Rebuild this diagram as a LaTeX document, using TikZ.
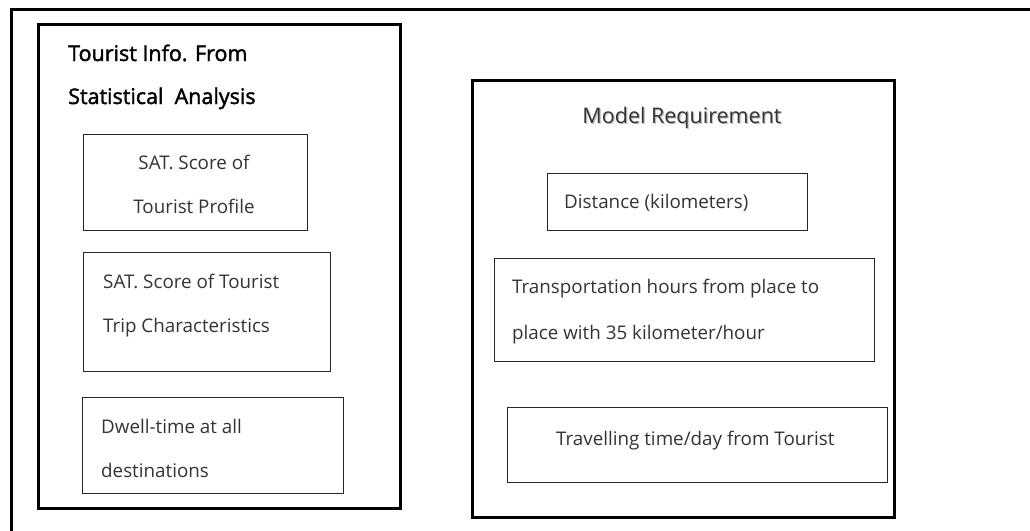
\documentclass[tikz,border=0pt]{standalone}
\usepackage{fontspec}
\setmainfont{Open Sans}
\newfontfamily\headfont{Open Sans}[FakeBold=1.8]
\tikzset{
  frame/.style={draw, line width=3pt},
  group/.style={draw, line width=2.6pt, inner sep=0pt, anchor=north west},
  item/.style={draw=black!85, line width=1.3pt, inner sep=0pt, anchor=north west},
  txt/.style={inner sep=0pt, anchor=base west, align=left, text=black!80,
    font=\fontsize{18.8}{44}\selectfont},
}

\begin{document}
\begin{tikzpicture}[x=1pt,y=-1pt]
  \useasboundingbox (0,0) rectangle (1030,530);
  % outer frame, cut off by the page edge
  \draw[frame] (1040,9) -- (11,9) -- (11,540);

  % left group: tourist information
  \node[group, minimum width=362pt, minimum height=484pt] (info) at (37,23) {};
  \node[item, minimum width=224pt, minimum height=96pt] (profile) at (83,134) {};
  \node[item, minimum width=247pt, minimum height=119pt] (trip) at (83,252) {};
  \node[item, minimum width=261pt, minimum height=96pt] (dwell) at (82,397) {};

  % multi-line texts sit on the baseline of their last line
  \node[txt, text=black, font=\headfont\fontsize{21.5}{43}\selectfont] (infotitle) at (68,104) {Tourist Info. From\\Statistical\ \ Analysis};
  \node[txt, anchor=base, align=center] (profiletext) at (194,213) {SAT. Score of\\Tourist Profile};
  \node[txt] (triptext) at (103,332) {SAT. Score of Tourist\\Trip Characteristics};
  \node[txt] (dwelltext) at (101,477) {Dwell-time at all\\destinations};

  % right group: model requirement
  \node[group, minimum width=422pt, minimum height=437pt] (model) at (471,79) {};
  \node[item, minimum width=260pt, minimum height=57pt] (dist) at (547,173) {};
  \node[item, minimum width=380pt, minimum height=103pt] (trans) at (494,258) {};
  \node[item, minimum width=380pt, minimum height=75pt] (travel) at (507,407) {};

  \node[txt, anchor=base, text=black!25, font=\fontsize{21.5}{26}\selectfont] (modelshadow) at (683.2,124.2) {Model Requirement};
  \node[txt, anchor=base, font=\fontsize{21.5}{26}\selectfont] (modeltitle) at (682,123) {Model Requirement};
  \node[txt] (disttext) at (564,208) {Distance (kilometers)};
  \node[txt, font=\fontsize{18.8}{46}\selectfont] (transtext) at (512,339) {Transportation hours from place to\\place with 35 kilometer/hour};
  \node[txt] (traveltext) at (556,445) {Travelling time/day from Tourist};
\end{tikzpicture}
\end{document}
